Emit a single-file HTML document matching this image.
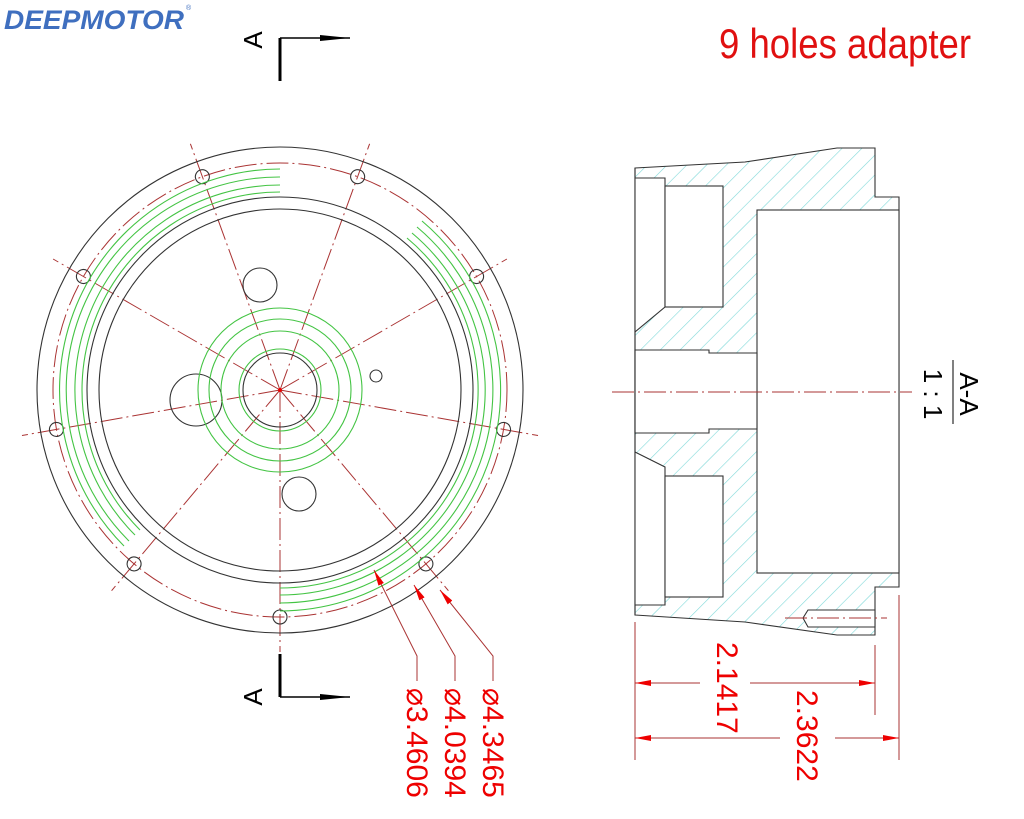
<!DOCTYPE html>
<html><head><meta charset="utf-8"><style>
html,body{margin:0;padding:0;background:#fff;}
svg{display:block;}
</style></head><body>
<svg width="1024" height="819" viewBox="0 0 1024 819" xmlns="http://www.w3.org/2000/svg">
<defs>
<pattern id="h" patternUnits="userSpaceOnUse" width="14" height="14" patternTransform="rotate(45)">
<line x1="0" y1="0" x2="0" y2="14" stroke="#7fd8d8" stroke-width="1.2"/>
</pattern>
<marker id="ar" markerWidth="16" markerHeight="8" refX="16" refY="4" orient="auto" markerUnits="userSpaceOnUse">
<path d="M0,1 L16,4 L0,7 Z" fill="#e00"/>
</marker>
<marker id="ab" markerWidth="30" markerHeight="8" refX="30" refY="4" orient="auto" markerUnits="userSpaceOnUse">
<path d="M0,1 L30,4 L0,7 Z" fill="#000"/>
</marker>
</defs>

<text x="4" y="29" font-family="Liberation Sans, sans-serif" font-weight="bold" font-style="italic" font-size="27" fill="#3f6fbf" textLength="180" lengthAdjust="spacingAndGlyphs">DEEPMOTOR</text>
<text x="186" y="10" font-family="Liberation Sans, sans-serif" font-size="7" fill="#3f6fbf">®</text>

<text x="719" y="58" font-family="Liberation Sans, sans-serif" font-size="42" fill="#e01010" textLength="252" lengthAdjust="spacingAndGlyphs">9 holes adapter</text>

<g stroke="#000" fill="none">
<line x1="280" y1="38" x2="280" y2="81" stroke-width="3"/>
<line x1="280" y1="38" x2="350" y2="38" stroke-width="1.5" marker-end="url(#ab)"/>
<line x1="280" y1="654" x2="280" y2="697" stroke-width="3"/>
<line x1="280" y1="697" x2="350" y2="697" stroke-width="1.5" marker-end="url(#ab)"/>
</g>
<text transform="translate(262,40) rotate(-90)" text-anchor="middle" font-family="Liberation Sans, sans-serif" font-size="26" fill="#000">A</text>
<text transform="translate(262,697) rotate(-90)" text-anchor="middle" font-family="Liberation Sans, sans-serif" font-size="26" fill="#000">A</text>

<g transform="translate(280,390)">
 <g stroke="#a33" stroke-width="1" stroke-dasharray="22,4,2,4" fill="none">
  <circle r="227"/>
  <g id="cl">
   <line x1="0" y1="0" x2="0" y2="262"/>
  </g>
  <use href="#cl" transform="rotate(40)"/><use href="#cl" transform="rotate(80)"/><use href="#cl" transform="rotate(120)"/>
  <use href="#cl" transform="rotate(160)"/><use href="#cl" transform="rotate(200)"/><use href="#cl" transform="rotate(240)"/>
  <use href="#cl" transform="rotate(280)"/><use href="#cl" transform="rotate(320)"/>
 </g>
 <g fill="none" stroke="#333" stroke-width="1.1">
  <circle r="243"/>
  <circle r="193"/>
  <circle r="181"/>
  <circle r="37"/>
  <circle cx="-84" cy="10" r="26"/>
  <circle cx="-20" cy="-105" r="17"/>
  <circle cx="19" cy="104" r="17"/>
  <circle cx="96" cy="-14" r="6"/>
  <g id="bh"><circle cx="0" cy="227" r="7"/></g>
  <use href="#bh" transform="rotate(40)"/><use href="#bh" transform="rotate(80)"/><use href="#bh" transform="rotate(120)"/>
  <use href="#bh" transform="rotate(160)"/><use href="#bh" transform="rotate(200)"/><use href="#bh" transform="rotate(240)"/>
  <use href="#bh" transform="rotate(280)"/><use href="#bh" transform="rotate(320)"/>
 </g>
 <g fill="none" stroke="#44c444" stroke-width="1.1">
  <circle r="41"/><circle r="59"/><circle r="71"/><circle r="82"/>
  <path d="M0,-198 A198,198 0 0 0 -140,140"/>
  <path d="M0,-205 A205,205 0 0 0 -145,145"/>
  <path d="M0,-213 A213,213 0 0 0 -151,151"/>
  <path d="M0,-221 A221,221 0 0 0 -156,156"/>
  <path d="M127,-152 A198,198 0 0 1 0,198"/>
  <path d="M132,-157 A205,205 0 0 1 0,205"/>
  <path d="M137,-163 A213,213 0 0 1 0,213"/>
  <path d="M142,-169 A221,221 0 0 1 0,221"/>
 </g>
 <circle r="2" fill="#e00"/>
</g>

<g stroke="#a33" stroke-width="1" fill="none">
<path d="M417,681 L417,656 L374,570" marker-end="url(#ar)"/>
<path d="M455,681 L455,656 L414,585" marker-end="url(#ar)"/>
<path d="M493,681 L493,656 L440,590" marker-end="url(#ar)"/>
</g>
<g font-family="Liberation Sans, DejaVu Sans, sans-serif" font-size="30" fill="#e00">
<text transform="translate(407,688) rotate(90)">⌀3.4606</text>
<text transform="translate(445,688) rotate(90)">⌀4.0394</text>
<text transform="translate(483,688) rotate(90)">⌀4.3465</text>
</g>

<path d="M635,168 L745,162 L837,148 L875,148 L875,197 L899,197 L899,587 L875,587 L875,635 L837,635 L745,622 L635,615 Z" fill="url(#h)" stroke="#333" stroke-width="1.1"/>
<g fill="#fff" stroke="#333" stroke-width="1.1">
<rect x="757" y="210" width="142" height="363"/>
<path d="M635,178 L665,178 L665,307 L635,332"/>
<rect x="665" y="186" width="58" height="121"/>
<path d="M635,350 L709,350 L709,353 L757,353 L757,429 L709,429 L709,433 L635,433 Z"/>
<path d="M635,452 L665,467 L665,605 L635,605"/>
<rect x="665" y="476" width="58" height="121"/>
<path d="M808,610 L875,610 L875,627 L808,627 L803,618 Z"/>
</g>
<line x1="635" y1="168" x2="635" y2="615" stroke="#333" stroke-width="1.1"/>
<g stroke="#a33" stroke-width="1" stroke-dasharray="22,4,2,4">
<line x1="612" y1="392" x2="912" y2="392"/>
<line x1="785" y1="618" x2="887" y2="618"/>
</g>

<g stroke="#a33" stroke-width="1" fill="none">
<line x1="635" y1="622" x2="635" y2="760"/>
<line x1="875" y1="645" x2="875" y2="715"/>
<line x1="899" y1="595" x2="899" y2="760"/>
<line x1="700" y1="683" x2="635" y2="683" marker-end="url(#ar)"/>
<line x1="750" y1="683" x2="875" y2="683" marker-end="url(#ar)"/>
<line x1="780" y1="738" x2="635" y2="738" marker-end="url(#ar)"/>
<line x1="835" y1="738" x2="899" y2="738" marker-end="url(#ar)"/>
</g>
<g font-family="Liberation Sans, sans-serif" font-size="30" fill="#e00">
<text transform="translate(717,642) rotate(90)">2.1417</text>
<text transform="translate(797,690) rotate(90)">2.3622</text>
</g>

<g font-family="Liberation Sans, sans-serif" font-size="26" fill="#000">
<text transform="translate(960,394) rotate(90)" text-anchor="middle">A-A</text>
<text transform="translate(924,394) rotate(90)" text-anchor="middle">1 : 1</text>
</g>
<line x1="953" y1="360" x2="953" y2="424" stroke="#000" stroke-width="1"/>
</svg>
</body></html>
